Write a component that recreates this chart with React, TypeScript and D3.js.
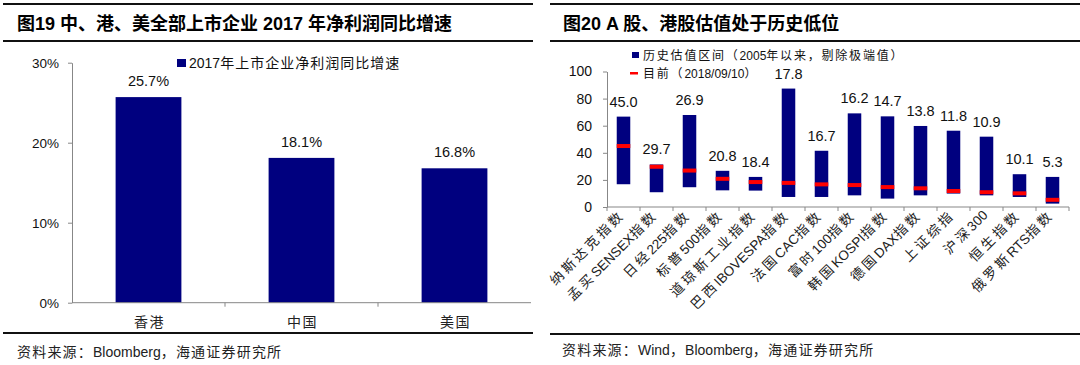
import React, { useRef, useEffect } from 'react';
import * as d3 from 'd3';

// left panel: 2017 net profit growth
const regions = ['香港', '中国', '美国'];
const growth = [25.7, 18.1, 16.8];
const growthTicks = [0, 10, 20, 30];

// right panel: valuation ranges since 2005
const indexNames = [
  '纳斯达克指数', '孟买SENSEX指数', '日经225指数', '标普500指数', '道琼斯工业指数',
  '巴西IBOVESPA指数', '法国CAC指数', '富时100指数', '韩国KOSPI指数', '德国DAX指数',
  '上证综指', '沪深300', '恒生指数', '俄罗斯RTS指数',
];
const rangeLow = [16.8, 10.9, 14.6, 12.3, 12.1, 7.4, 7.4, 8.6, 6.2, 8.6, 9.9, 8.6, 7.4, 2.5];
const rangeHigh = [66.7, 31.4, 67.9, 26.7, 22.2, 87.4, 41.5, 69.1, 66.9, 59.8, 56.3, 51.9, 24.2, 22.2];
const currentPE = [45.0, 29.7, 26.9, 20.8, 18.4, 17.8, 16.7, 16.2, 14.7, 13.8, 11.8, 10.9, 10.1, 5.3];
const peTicks = [0, 20, 40, 60, 80, 100];

const FONT = "'Liberation Sans', Arial, 'Noto Sans CJK SC', sans-serif";
const NAVY = '#00007f';
const AXIS = '#878787';

// split CJK runs so they can get the wider spacing seen in the original
const spaced = (s: string, sp: number) =>
  s.split(/([\u3000-\u9fff\uff00-\uffef]+)/).filter(Boolean).map((part, i) =>
    /[\u3000-\u9fff\uff00-\uffef]/.test(part)
      ? <tspan key={i} letterSpacing={sp}>{part}</tspan>
      : <tspan key={i}>{part}</tspan>
  );

const App: React.FC = () => {
  const yAxisL = useRef<SVGGElement>(null);
  const yAxisR = useRef<SVGGElement>(null);

  const xL = d3.scaleBand<string>().domain(regions).range([72, 531]).paddingInner(0.57).paddingOuter(0.285);
  const yL = d3.scaleLinear().domain([0, 30]).range([302.7, 62.7]);

  const xR = d3.scaleBand<string>().domain(indexNames).range([607, 1069]).paddingInner(0.59).paddingOuter(0.295);
  const yR = d3.scaleLinear().domain([0, 100]).range([207, 71.5]);

  useEffect(() => {
    const style = (g: d3.Selection<SVGGElement, unknown, null, undefined>, size: number) => {
      g.selectAll('.domain').attr('stroke', AXIS);
      g.selectAll('.tick line').attr('stroke', AXIS);
      g.selectAll('.tick text').attr('fill', '#111').style('font-family', FONT).style('font-size', `${size}px`);
    };
    const gl = d3.select(yAxisL.current!);
    gl.selectAll('*').remove();
    gl.call(d3.axisLeft(yL).tickValues(growthTicks).tickFormat((d) => `${d}%`).tickSize(4).tickPadding(9).tickSizeOuter(0));
    style(gl, 13.5);

    const gr = d3.select(yAxisR.current!);
    gr.selectAll('*').remove();
    gr.call(d3.axisLeft(yR).tickValues(peTicks).tickSize(4).tickPadding(11).tickSizeOuter(0));
    style(gr, 14);
  }, []);

  const bL = d3.range(regions.length + 1).map((i) => xL.range()[0] + i * xL.step());
  const bR = d3.range(indexNames.length + 1).map((i) => xR.range()[0] + i * xR.step());

  return (
    <svg width={1080} height={365} style={{ position: 'absolute', left: 0, top: 0, background: '#fff' }} fontFamily={FONT}>
      {/* frame lines */}
      <g stroke="#111" strokeWidth={2}>
        <line x1={3} x2={533} y1={4} y2={4} />
        <line x1={3} x2={533} y1={41} y2={41} />
        <line x1={3} x2={533} y1={333} y2={333} />
        <line x1={550} x2={1080} y1={4} y2={4} />
        <line x1={550} x2={1080} y1={41} y2={41} />
        <line x1={550} x2={1080} y1={334} y2={334} />
      </g>
      <text x={17} y={30} fontSize={18} fontWeight="bold" fill="#000">图19 中、港、美全部上市企业 2017 年净利润同比增速</text>
      <text x={563} y={30} fontSize={18} fontWeight="bold" fill="#000">图20 A 股、港股估值处于历史低位</text>
      <text x={17} y={357} fontSize={14} fill="#222">{spaced('资料来源：Bloomberg，海通证券研究所', 1.2)}</text>
      <text x={562} y={355} fontSize={14} fill="#222">{spaced('资料来源：Wind，Bloomberg，海通证券研究所', 1.2)}</text>

      {/* left chart */}
      <g>
        {regions.map((r, i) => (
          <g key={r}>
            <rect x={xL(r)} y={yL(growth[i])} width={xL.bandwidth()} height={yL(0) - yL(growth[i])} fill={NAVY} />
            <text x={xL(r)! + xL.bandwidth() / 2} y={yL(growth[i]) - 11} textAnchor="middle" fontSize={14.5} fill="#111">
              {growth[i].toFixed(1)}%
            </text>
            <text x={xL(r)! + xL.bandwidth() / 2 + 1} y={327} textAnchor="middle" fontSize={14} fill="#222">
              {spaced(r, 1.5)}
            </text>
          </g>
        ))}
        <line x1={bL[0]} x2={bL[bL.length - 1]} y1={yL(0)} y2={yL(0)} stroke={AXIS} />
        {bL.slice(1, -1).map((b, i) => (
          <line key={i} x1={b} x2={b} y1={yL(0)} y2={yL(0) + 4} stroke={AXIS} />
        ))}
        <g ref={yAxisL} transform={`translate(${bL[0]},0)`} />
        <rect x={177} y={59} width={9} height={8} fill={NAVY} />
        <text x={189} y={68} fontSize={14} fill="#111">{spaced('2017年上市企业净利润同比增速', 1)}</text>
      </g>

      {/* right chart */}
      <g>
        {indexNames.map((n, i) => {
          const cx = xR(n)! + xR.bandwidth() / 2;
          return (
            <g key={n}>
              <rect x={xR(n)} y={yR(rangeHigh[i])} width={xR.bandwidth()} height={yR(rangeLow[i]) - yR(rangeHigh[i])} fill={NAVY} />
              <rect x={xR(n)} y={yR(currentPE[i]) - 2} width={xR.bandwidth()} height={4} fill="#ff0000" />
              <text x={cx} y={yR(rangeHigh[i]) - 10} textAnchor="middle" fontSize={14.5} fill="#111">
                {currentPE[i].toFixed(1)}
              </text>
              <text transform={`translate(${cx + 2},${yR(0) + 9}) rotate(-45)`} textAnchor="end" fontSize={13.5} fill="#222">
                {spaced(n, 3)}
              </text>
            </g>
          );
        })}
        <line x1={bR[0]} x2={bR[bR.length - 1]} y1={yR(0)} y2={yR(0)} stroke={AXIS} />
        {bR.map((b, i) => (
          <line key={i} x1={b} x2={b} y1={yR(0)} y2={yR(0) + 4} stroke={AXIS} />
        ))}
        <g ref={yAxisR} transform={`translate(${bR[0]},0)`} />
        <rect x={632} y={52} width={7} height={6} fill={NAVY} />
        <text x={643} y={60} fontSize={12} fill="#111">{spaced('历史估值区间（2005年以来，剔除极端值）', 1.8)}</text>
        <rect x={630} y={72} width={8} height={2.5} fill="#ff0000" />
        <text x={643} y={78} fontSize={12} fill="#111">{spaced('目前（2018/09/10）', 1.8)}</text>
      </g>
    </svg>
  );
};

export default App;
